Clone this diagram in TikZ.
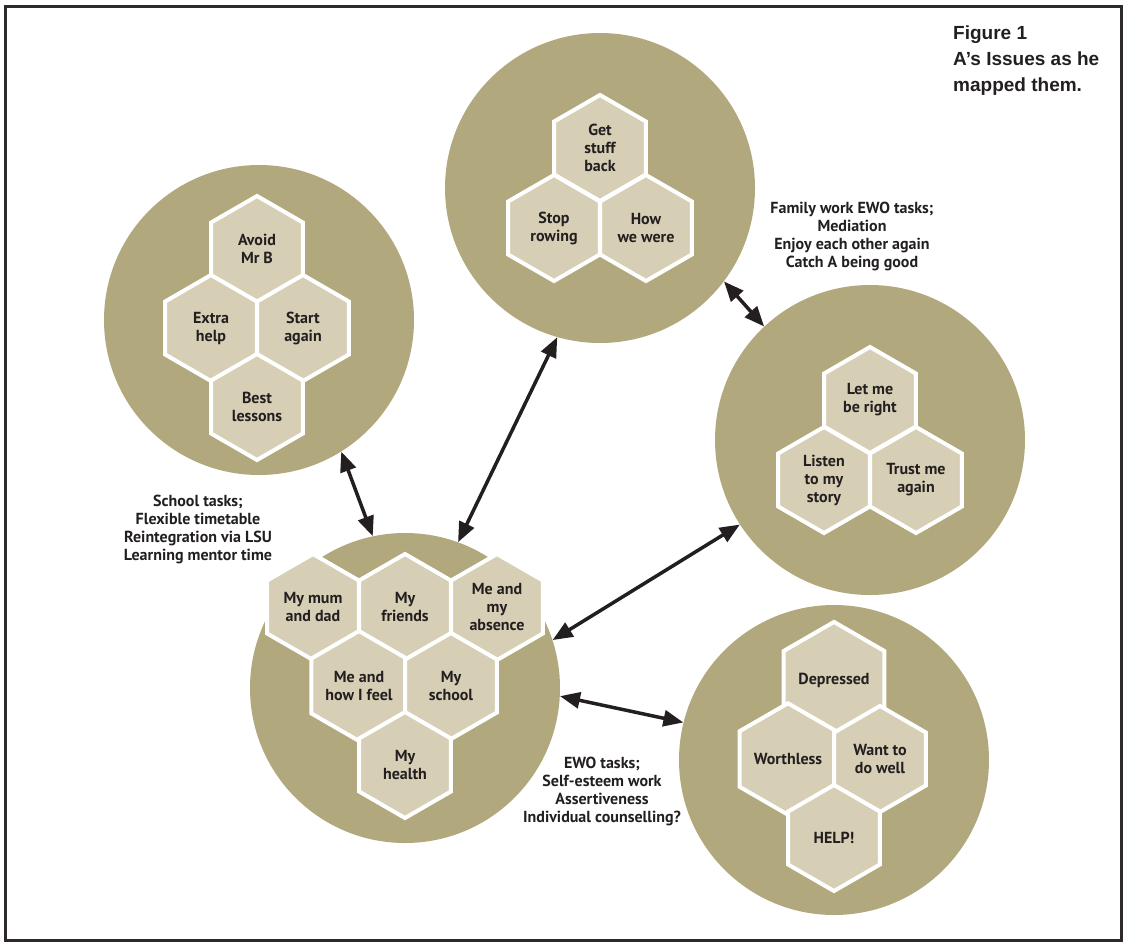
\documentclass[tikz,border=0pt]{standalone}
\usepackage{fontspec}
\setmainfont{PT Sans}
\newfontfamily\titlefont{Liberation Sans}
\usetikzlibrary{shapes.geometric,arrows.meta}
\definecolor{khaki}{HTML}{B2A87D}
\definecolor{cell}{HTML}{D6CFB5}
\definecolor{ink}{HTML}{231F20}
\begin{document}
\begin{tikzpicture}[x=1pt,y=-1pt]
        \tikzstyle{disc}=[circle,fill=khaki,inner sep=0pt,minimum size=310pt]
        \tikzstyle{hex}=[regular polygon,regular polygon sides=6,shape border rotate=30,fill=cell,draw=white,line width=4pt,inner sep=0pt,minimum size=106pt,align=center,text=ink,font=\bfseries\fontsize{16}{18}\selectfont]
        \tikzstyle{note}=[align=center,text=ink,inner sep=0pt,font=\bfseries\fontsize{16}{18}\selectfont]
        \tikzstyle{link}=[draw=ink,line width=3.5pt,{Triangle[length=20pt,width=16pt]}-{Triangle[length=20pt,width=16pt]}]

        \useasboundingbox (0,0) rectangle (1124,943);
        \draw[line width=3pt,draw=ink!95] (5.5,6) rectangle (1121,940);

        \node (sch)[disc] at (259,320) {};
        \node (fam)[disc] at (600,188) {};
        \node (tru)[disc] at (870,440) {};
        \node (fee)[disc] at (834,760) {};
        \node (me)[disc] at (405,688) {};

        \node (avoid)[hex] at (257,249) {Avoid\\Mr B};
        \node (extra)[hex] at (211,328) {Extra\\help};
        \node (start)[hex] at (303,328) {Start\\again};
        \node (best)[hex] at (257,407) {Best\\lessons};

        \node (stuff)[hex] at (600,148) {Get\\stuff\\back};
        \node (stop)[hex] at (554,228) {Stop\\rowing};
        \node (were)[hex] at (646,228) {How\\we were};

        \node (right)[hex] at (870,400) {Let me\\be right};
        \node (story)[hex] at (824,480) {Listen\\to my\\story};
        \node (trust)[hex] at (916,480) {Trust me\\again};

        \node (depr)[hex] at (834,680) {Depressed};
        \node (worth)[hex] at (788,759) {Worthless};
        \node (well)[hex] at (880,759) {Want to\\do well};
        \node (help)[hex] at (834,838) {HELP!};

        \node (mum)[hex] at (313,607) {My mum\\and dad};
        \node (friends)[hex] at (405,607) {My\\friends};
        \node (absence)[hex] at (497,607) {Me and\\my\\absence};
        \node (feel)[hex] at (359,686) {Me and\\how I feel};
        \node (school)[hex] at (451,686) {My\\school};
        \node (health)[hex] at (405,765) {My\\health};

        \draw[link] (sch.-58) -- (me.102);
        \draw[link] (fam.-106) -- (me.70);
        \draw[link] (fam.-37) -- (tru.133);
        \draw[link] (tru.-147) -- (me.18);
        \draw[link] (me.-3) -- (fee.166);

        \node (schtxt)[note] at (198,529) {School tasks;\\Flexible timetable\\Reintegration via LSU\\Learning mentor time};
        \node (famtxt)[note] at (852,236) {Family work EWO tasks;\\Mediation\\Enjoy each other again\\Catch A being good};
        \node (ewotxt)[note] at (602,791) {EWO tasks;\\Self-esteem work\\Assertiveness\\Individual counselling?};

        \node (title)[anchor=north west,align=left,text=ink,inner sep=0pt,font=\titlefont\bfseries\fontsize{19}{26}\selectfont] at (953,26) {Figure 1\\A’s Issues as he\\mapped them.};
\end{tikzpicture}
\end{document}
